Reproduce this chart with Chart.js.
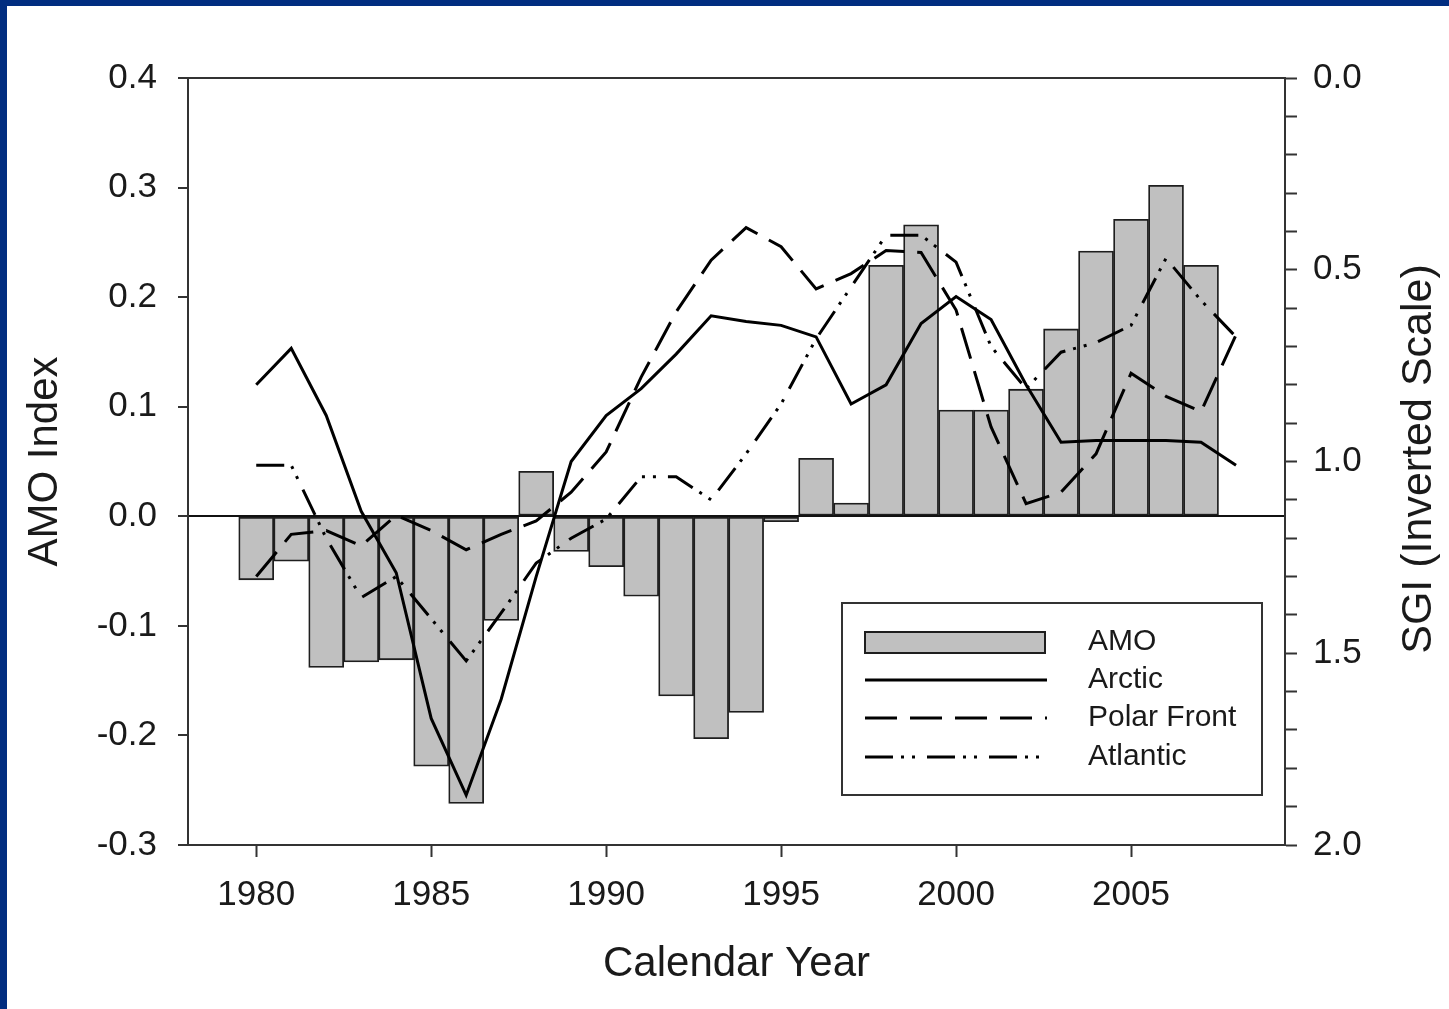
<!DOCTYPE html>
<html>
<head>
<meta charset="utf-8">
<title>AMO and SGI</title>
<script src="https://cdn.jsdelivr.net/npm/chart.js@4"></script>
<style>
  html, body { margin: 0; padding: 0; }
  body { width: 1449px; height: 1009px; background: #012d80; position: relative; overflow: hidden; }
  #wrap { position: absolute; left: 7px; top: 6px; width: 1442px; height: 1003px; background: #fff; }
</style>
</head>
<body>
<div id="wrap"><canvas id="chart" width="1442" height="1003"></canvas></div>
<script>
// years for the SGI lines (1980-2008) and for the AMO bars (1980-2007)
const years = [1980, 1981, 1982, 1983, 1984, 1985, 1986, 1987, 1988, 1989,
  1990, 1991, 1992, 1993, 1994, 1995, 1996, 1997, 1998, 1999,
  2000, 2001, 2002, 2003, 2004, 2005, 2006, 2007, 2008];
const amoYears = [1980, 1981, 1982, 1983, 1984, 1985, 1986, 1987, 1988, 1989,
  1990, 1991, 1992, 1993, 1994, 1995, 1996, 1997, 1998, 1999,
  2000, 2001, 2002, 2003, 2004, 2005, 2006, 2007];

// AMO index (left axis)
const amo = [-0.058, -0.041, -0.138, -0.133, -0.131, -0.228, -0.262, -0.095, 0.041, -0.032,
  -0.046, -0.073, -0.164, -0.203, -0.179, -0.005, 0.053, 0.012, 0.229, 0.266,
  0.097, 0.097, 0.116, 0.171, 0.242, 0.271, 0.302, 0.229];

// SGI, right axis (inverted)
const arctic = [0.80, 0.705, 0.88, 1.13, 1.29, 1.67, 1.87, 1.62, 1.30, 1.00,
  0.88, 0.81, 0.72, 0.62, 0.635, 0.645, 0.675, 0.85, 0.80, 0.64,
  0.57, 0.63, 0.80, 0.95, 0.945, 0.945, 0.945, 0.95, 1.01];
const polarFront = [1.30, 1.19, 1.18, 1.22, 1.14, 1.18, 1.23, 1.19, 1.155, 1.08,
  0.975, 0.78, 0.61, 0.475, 0.39, 0.44, 0.55, 0.51, 0.45, 0.455,
  0.605, 0.91, 1.11, 1.08, 0.98, 0.77, 0.83, 0.87, 0.67];
const atlantic = [1.01, 1.01, 1.20, 1.355, 1.30, 1.41, 1.52, 1.395, 1.265, 1.20,
  1.15, 1.04, 1.04, 1.10, 0.98, 0.85, 0.68, 0.545, 0.41, 0.41,
  0.48, 0.70, 0.81, 0.715, 0.69, 0.645, 0.47, 0.58, 0.675];

// tick values
const yearTicks = [1980, 1985, 1990, 1995, 2000, 2005];
const amoTicks = [-0.3, -0.2, -0.1, 0.0, 0.1, 0.2, 0.3, 0.4];
const sgiTicks = [0.0, 0.1, 0.2, 0.3, 0.4, 0.5, 0.6, 0.7, 0.8, 0.9, 1.0,
  1.1, 1.2, 1.3, 1.4, 1.5, 1.6, 1.7, 1.8, 1.9, 2.0];
const sgiLabels = ["0.0", "0.5", "1.0", "1.5", "2.0"];

const ink = "#1a1a1a";
const axisColor = "#333";
Chart.defaults.font.family = '"Liberation Sans", Arial, Helvetica, sans-serif';
Chart.defaults.color = ink;

function pairs(xs, ys) {
  return ys.map((v, i) => ({ x: xs[i], y: v }));
}

// top frame line, right axis title and the legend box
const extrasPlugin = {
  id: "extras",
  afterDraw(chart) {
    const { ctx, chartArea: a } = chart;
    ctx.save();
    ctx.strokeStyle = axisColor;
    ctx.lineWidth = 2;
    ctx.beginPath();
    ctx.moveTo(a.left - 1, a.top);
    ctx.lineTo(a.right + 1, a.top);
    ctx.stroke();

    // right title, reads bottom to top
    ctx.fillStyle = ink;
    ctx.font = '43px "Liberation Sans", Arial, sans-serif';
    ctx.textAlign = "center";
    ctx.textBaseline = "middle";
    ctx.translate(1412, 453);
    ctx.rotate(-Math.PI / 2);
    ctx.fillText("SGI (Inverted Scale)", 0, 0);
    ctx.setTransform(1, 0, 0, 1, 0, 0);

    // legend
    const box = { x: 835, y: 597, w: 420, h: 192 };
    ctx.strokeStyle = axisColor;
    ctx.lineWidth = 2;
    ctx.strokeRect(box.x, box.y, box.w, box.h);
    const rows = [636, 674, 712, 751];
    ctx.font = '30px "Liberation Sans", Arial, sans-serif';
    ctx.textAlign = "left";
    chart.data.datasets.forEach((ds, i) => {
      const y = rows[i];
      if (ds.type === "line") {
        ctx.strokeStyle = ds.borderColor;
        ctx.lineWidth = ds.borderWidth;
        ctx.setLineDash(ds.borderDash || []);
        ctx.beginPath();
        ctx.moveTo(858, y);
        ctx.lineTo(1040, y);
        ctx.stroke();
        ctx.setLineDash([]);
      } else {
        ctx.fillStyle = ds.backgroundColor;
        ctx.fillRect(858, y - 10, 180, 21);
        ctx.strokeStyle = ds.borderColor;
        ctx.lineWidth = 2;
        ctx.strokeRect(858, y - 10, 180, 21);
      }
      ctx.fillStyle = ink;
      ctx.fillText(ds.label, 1081, y);
    });
    ctx.restore();
  }
};

new Chart(document.getElementById("chart"), {
  type: "bar",
  data: {
    datasets: [
      {
        type: "bar",
        label: "AMO",
        data: pairs(amoYears, amo),
        yAxisID: "y",
        backgroundColor: "#c0c0c0",
        borderColor: "#1e1e1e",
        borderWidth: 1.8,
        borderSkipped: false,
        barPercentage: 1,
        categoryPercentage: 1,
        order: 4
      },
      {
        type: "line",
        label: "Arctic",
        data: pairs(years, arctic),
        yAxisID: "y2",
        borderColor: "#000",
        borderWidth: 3,
        pointRadius: 0,
        tension: 0,
        order: 1
      },
      {
        type: "line",
        label: "Polar Front",
        data: pairs(years, polarFront),
        yAxisID: "y2",
        borderColor: "#000",
        borderWidth: 3,
        borderDash: [32, 13],
        pointRadius: 0,
        tension: 0,
        order: 2
      },
      {
        type: "line",
        label: "Atlantic",
        data: pairs(years, atlantic),
        yAxisID: "y2",
        borderColor: "#000",
        borderWidth: 3,
        borderDash: [28, 8, 3, 8, 3, 12],
        pointRadius: 0,
        tension: 0,
        order: 3
      }
    ]
  },
  options: {
    responsive: false,
    animation: false,
    layout: { padding: { top: 72, left: 0, right: 0, bottom: 0 } },
    plugins: {
      legend: { display: false },
      tooltip: { enabled: false }
    },
    scales: {
      x: {
        type: "linear",
        position: "bottom",
        min: 1978.05,
        max: 2009.4,
        offset: false,
        afterBuildTicks: (s) => { s.ticks = yearTicks.map((v) => ({ value: v })); },
        afterFit: (s) => { s.height = 164; },
        ticks: {
          font: { size: 35 },
          padding: 17,
          color: ink,
          callback: (v) => String(v)
        },
        grid: {
          offset: false,
          drawOnChartArea: false,
          tickLength: 12,
          tickColor: axisColor,
          tickWidth: 2
        },
        border: { display: true, color: axisColor, width: 2 },
        title: {
          display: true,
          text: "Calendar Year",
          font: { size: 42 },
          color: ink,
          padding: { top: 0, bottom: 19 }
        }
      },
      y: {
        type: "linear",
        position: "left",
        min: -0.3,
        max: 0.4,
        afterBuildTicks: (s) => { s.ticks = amoTicks.map((v) => ({ value: v })); },
        afterFit: (s) => { s.width = 181; },
        ticks: {
          font: { size: 35 },
          padding: 21,
          color: ink,
          callback: (v) => Number(v).toFixed(1)
        },
        grid: {
          color: (c) => (c.tick && Math.abs(c.tick.value) < 1e-9 ? "#111" : "rgba(0,0,0,0)"),
          lineWidth: 2,
          tickLength: 10,
          tickColor: axisColor,
          tickWidth: 2
        },
        border: { display: true, color: axisColor, width: 2 },
        title: {
          display: true,
          text: "AMO Index",
          font: { size: 42 },
          color: ink,
          padding: { top: 13, bottom: 0 }
        }
      },
      y2: {
        type: "linear",
        position: "right",
        reverse: true,
        min: 0,
        max: 2,
        afterBuildTicks: (s) => { s.ticks = sgiTicks.map((v) => ({ value: v })); },
        afterFit: (s) => { s.width = 164; },
        ticks: {
          font: { size: 35 },
          padding: 16,
          color: ink,
          autoSkip: false,
          callback: (v) => {
            const t = Number(v).toFixed(1);
            return sgiLabels.includes(t) ? t : "";
          }
        },
        grid: {
          drawOnChartArea: false,
          tickLength: 12,
          tickColor: axisColor,
          tickWidth: 2
        },
        border: { display: true, color: axisColor, width: 2 }
      }
    }
  },
  plugins: [extrasPlugin]
});
</script>
</body>
</html>
